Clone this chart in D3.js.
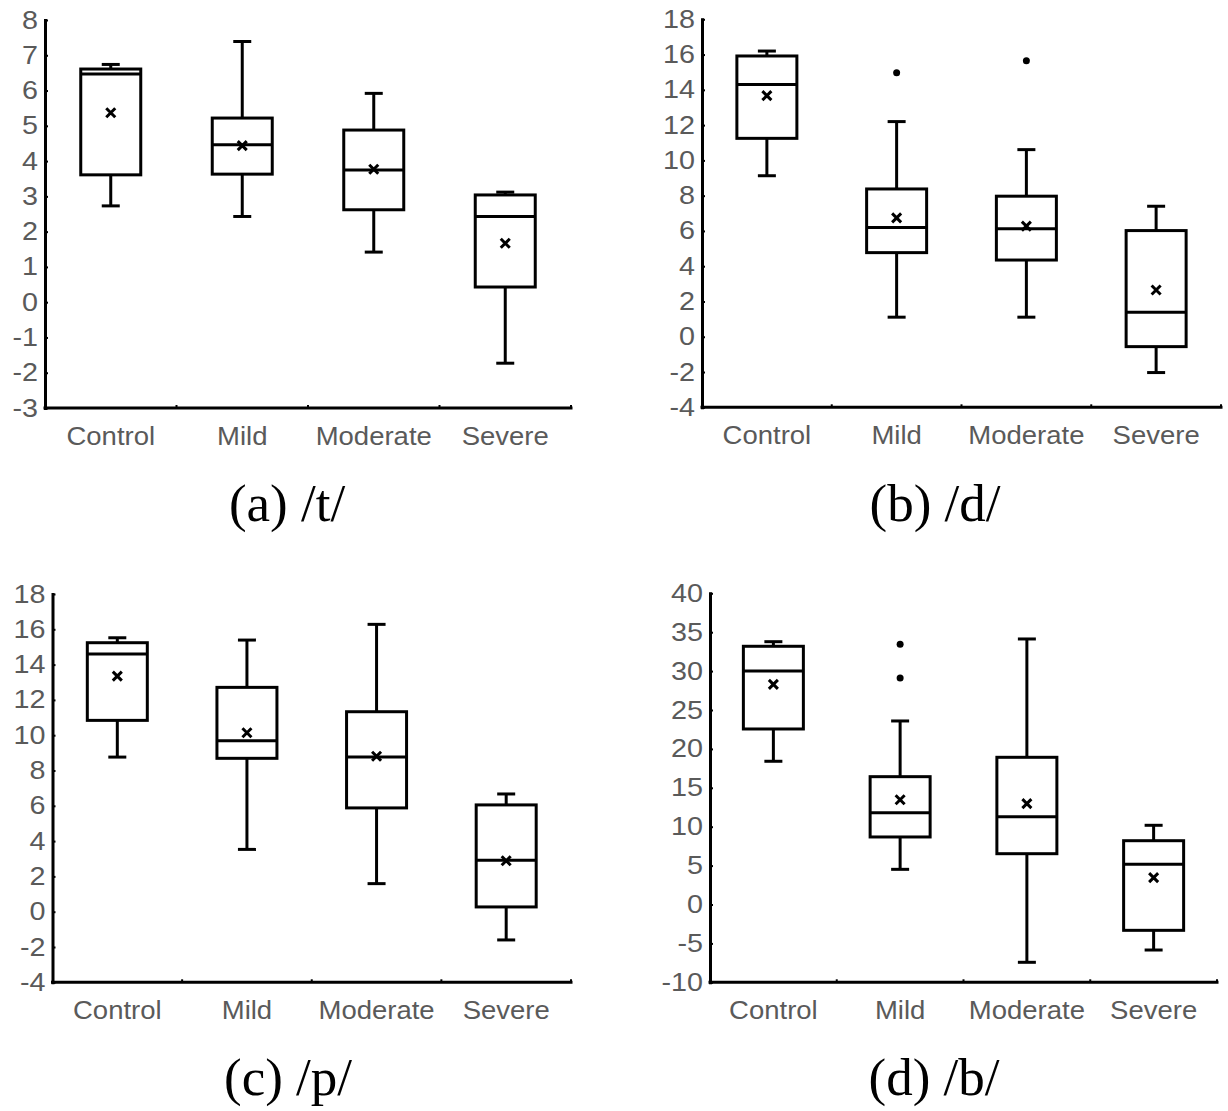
<!DOCTYPE html>
<html>
<head>
<meta charset="utf-8">
<script src="https://cdn.jsdelivr.net/npm/d3@7"></script>
<style>
  html, body { margin: 0; padding: 0; background: #fff; }
  svg { display: block; }
</style>
</head>
<body>
<svg id="chart" width="1228" height="1111"></svg>
<script>
// ---------------- DATA ----------------
const categories = ["Control", "Mild", "Moderate", "Severe"];

// (a) /t/
const tTicks   = [8, 7, 6, 5, 4, 3, 2, 1, 0, -1, -2, -3];
const tLow     = [2.73, 2.43, 1.42, -1.73];
const tQ1      = [3.61, 3.63, 2.62, 0.43];
const tMedian  = [6.47, 4.46, 3.75, 2.43];
const tQ3      = [6.61, 5.22, 4.88, 3.04];
const tHigh    = [6.74, 7.39, 5.92, 3.12];
const tMean    = [5.37, 4.44, 3.77, 1.67];
const tOutliers = [[], [], [], []];

// (b) /d/
const dTicks   = [18, 16, 14, 12, 10, 8, 6, 4, 2, 0, -2, -4];
const dLow     = [9.13, 1.11, 1.11, -2.03];
const dQ1      = [11.25, 4.77, 4.35, -0.56];
const dMedian  = [14.31, 6.19, 6.13, 1.39];
const dQ3      = [15.92, 8.38, 7.97, 6.02];
const dHigh    = [16.20, 12.20, 10.61, 7.40];
const dMean    = [13.67, 6.74, 6.27, 2.65];
const dOutliers = [[], [14.97], [15.65], []];

// (c) /p/
const pTicks   = [18, 16, 14, 12, 10, 8, 6, 4, 2, 0, -2, -4];
const pLow     = [8.76, 3.53, 1.59, -1.60];
const pQ1      = [10.84, 8.69, 5.88, 0.27];
const pMedian  = [14.60, 9.69, 8.76, 2.91];
const pQ3      = [15.24, 12.71, 11.33, 6.05];
const pHigh    = [15.52, 15.39, 16.28, 6.67];
const pMean    = [13.35, 10.14, 8.81, 2.89];
const pOutliers = [[], [], [], []];

// (d) /b/
const bTicks   = [40, 35, 30, 25, 20, 15, 10, 5, 0, -5, -10];
const bLow     = [18.41, 4.52, -7.43, -5.85];
const bQ1      = [22.56, 8.68, 6.53, -3.32];
const bMedian  = [30.01, 11.80, 11.29, 5.17];
const bQ3      = [33.19, 16.43, 18.92, 8.20];
const bHigh    = [33.78, 23.59, 34.13, 10.18];
const bMean    = [28.30, 13.47, 12.96, 3.45];
const bOutliers = [[], [33.44, 29.11], [], []];

const captions = ["(a) /t/", "(b) /d/", "(c) /p/", "(d) /b/"];

// ---------------- LAYOUT ----------------
const panels = [
  { caption: captions[0], ticks: tTicks, low: tLow, q1: tQ1, med: tMedian, q3: tQ3, high: tHigh, mean: tMean, out: tOutliers,
    left: 45, right: 571, top: 20, bottom: 408, capX: 287, capY: 521 },
  { caption: captions[1], ticks: dTicks, low: dLow, q1: dQ1, med: dMedian, q3: dQ3, high: dHigh, mean: dMean, out: dOutliers,
    left: 702, right: 1221, top: 19.3, bottom: 407.3, capX: 935, capY: 521 },
  { caption: captions[2], ticks: pTicks, low: pLow, q1: pQ1, med: pMedian, q3: pQ3, high: pHigh, mean: pMean, out: pOutliers,
    left: 52.5, right: 571, top: 594, bottom: 982.3, capX: 288, capY: 1095 },
  { caption: captions[3], ticks: bTicks, low: bLow, q1: bQ1, med: bMedian, q3: bQ3, high: bHigh, mean: bMean, out: bOutliers,
    left: 710, right: 1217, top: 593.3, bottom: 982.3, capX: 934, capY: 1095 }
];

const BOX_W = 60, CAP_W = 18, LW = 3, MEAN_R = 4.5;
const labelColor = "#5a5a5a";

const svg = d3.select("#chart");

panels.forEach(p => {
  const g = svg.append("g");
  const ext = d3.extent(p.ticks);
  const y = d3.scaleLinear().domain(ext).range([p.bottom, p.top]);
  const x = d3.scaleBand().domain(categories).range([p.left, p.right]).paddingInner(0).paddingOuter(0);

  // Y axis
  const yAxis = d3.axisLeft(y).tickValues(p.ticks).tickSizeInner(-3).tickSizeOuter(0).tickPadding(8)
    .tickFormat(d3.format("d"));
  const ya = g.append("g").attr("transform", `translate(${p.left},0)`).call(yAxis);
  ya.select(".domain").attr("stroke", "#000").attr("stroke-width", LW).attr("stroke-linecap", "square");
  ya.selectAll(".tick line").attr("stroke", "#000").attr("stroke-width", 2);
  ya.selectAll(".tick text")
    .attr("x", 0)
    .attr("transform", "translate(-7,0) scale(1.15,1)")
    .attr("fill", labelColor)
    .style("font-family", "'Liberation Sans', Arial, sans-serif")
    .style("font-size", "25px")
    .text(d => (d < 0 ? "-" + Math.abs(d) : String(d)));

  // X axis line
  g.append("line")
    .attr("x1", p.left).attr("x2", p.right)
    .attr("y1", p.bottom).attr("y2", p.bottom)
    .attr("stroke", "#000").attr("stroke-width", LW).attr("stroke-linecap", "square");
  // X ticks at band boundaries (small, upward)
  g.selectAll(".xtick").data(categories).enter().append("line")
    .attr("x1", d => x(d) + x.bandwidth()).attr("x2", d => x(d) + x.bandwidth())
    .attr("y1", p.bottom).attr("y2", p.bottom - 3)
    .attr("stroke", "#000").attr("stroke-width", 2);

  // X labels
  g.selectAll(".xlab").data(categories).enter().append("text")
    .attr("transform", d => `translate(${x(d) + x.bandwidth() / 2},${p.bottom + 37}) scale(1.1,1)`)
    .attr("text-anchor", "middle")
    .attr("fill", labelColor)
    .style("font-family", "'Liberation Sans', Arial, sans-serif")
    .style("font-size", "25px")
    .text(d => d);

  // Boxes
  categories.forEach((c, i) => {
    const cx = x(c) + x.bandwidth() / 2;
    const bg = g.append("g").attr("fill", "none").attr("stroke", "#000").attr("stroke-width", LW);
    // whiskers
    bg.append("line").attr("x1", cx).attr("x2", cx).attr("y1", y(p.q3[i])).attr("y2", y(p.high[i]));
    bg.append("line").attr("x1", cx).attr("x2", cx).attr("y1", y(p.q1[i])).attr("y2", y(p.low[i]));
    bg.append("line").attr("x1", cx - CAP_W / 2).attr("x2", cx + CAP_W / 2).attr("y1", y(p.high[i])).attr("y2", y(p.high[i]));
    bg.append("line").attr("x1", cx - CAP_W / 2).attr("x2", cx + CAP_W / 2).attr("y1", y(p.low[i])).attr("y2", y(p.low[i]));
    // box
    bg.append("rect").attr("x", cx - BOX_W / 2).attr("width", BOX_W)
      .attr("y", y(p.q3[i])).attr("height", y(p.q1[i]) - y(p.q3[i])).attr("fill", "#fff");
    // median
    bg.append("line").attr("x1", cx - BOX_W / 2).attr("x2", cx + BOX_W / 2).attr("y1", y(p.med[i])).attr("y2", y(p.med[i]));
    // mean x
    const my = y(p.mean[i]);
    bg.append("path")
      .attr("d", `M${cx - MEAN_R},${my - MEAN_R}L${cx + MEAN_R},${my + MEAN_R}M${cx - MEAN_R},${my + MEAN_R}L${cx + MEAN_R},${my - MEAN_R}`)
      .attr("stroke-width", 3);
    // outliers
    p.out[i].forEach(v => {
      g.append("circle").attr("cx", cx).attr("cy", y(v)).attr("r", 3.5).attr("fill", "#000");
    });
  });

  // Caption
  svg.append("text")
    .attr("x", p.capX).attr("y", p.capY)
    .attr("text-anchor", "middle")
    .attr("fill", "#000")
    .style("font-family", "'Liberation Serif', 'Times New Roman', serif")
    .style("font-size", "53px")
    .text(p.caption);
});
</script>
</body>
</html>
